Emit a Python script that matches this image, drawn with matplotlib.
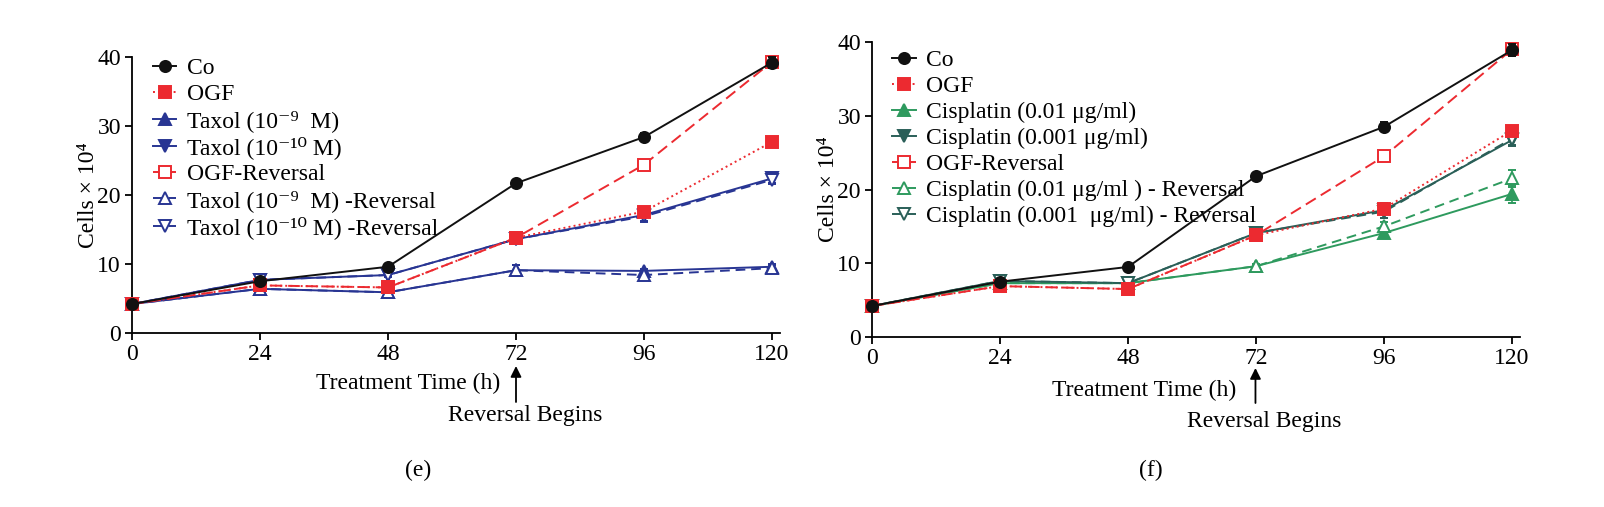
import matplotlib
matplotlib.use('Agg')
import matplotlib.pyplot as plt
from matplotlib.transforms import blended_transform_factory

plt.rcParams['font.family'] = ['Liberation Serif', 'DejaVu Serif']

hours = [0, 24, 48, 72, 96, 120]

# panel (e) - taxol
co_e = [4.2, 7.5, 9.6, 21.7, 28.4, 39.2]
co_e_err = [0.2, 0.3, 0.3, 0.5, 0.6, 0.8]
ogf_e = [4.2, 6.9, 6.6, 13.8, 17.6, 27.7]
ogf_e_err = [0.2, 0.3, 0.3, 0.4, 0.4, 0.7]
ogf_rev_e = [4.2, 6.9, 6.6, 13.8, 24.4, 39.3]
ogf_rev_e_err = [0.2, 0.3, 0.3, 0.4, 0.4, 0.6]
tax9 = [4.2, 6.4, 5.9, 9.1, 9.0, 9.6]
tax9_err = [0.2, 0.3, 0.3, 0.8, 0.3, 0.4]
tax10 = [4.2, 7.7, 8.4, 13.6, 17.1, 22.4]
tax10_err = [0.2, 0.3, 0.3, 0.4, 0.9, 0.6]
tax9_rev = [4.2, 6.4, 5.9, 9.1, 8.4, 9.4]
tax9_rev_err = [0.2, 0.3, 0.3, 0.8, 0.5, 0.4]
tax10_rev = [4.2, 7.7, 8.4, 13.6, 16.9, 22.2]
tax10_rev_err = [0.2, 0.3, 0.3, 0.4, 0.8, 0.6]

# panel (f) - cisplatin
co_f = [4.2, 7.5, 9.5, 21.8, 28.5, 38.9]
co_f_err = [0.2, 0.3, 0.3, 0.5, 0.6, 0.8]
ogf_f = [4.2, 6.9, 6.5, 13.8, 17.4, 28.0]
ogf_f_err = [0.2, 0.3, 0.3, 0.4, 0.4, 0.6]
ogf_rev_f = [4.2, 6.9, 6.5, 13.8, 24.5, 39.0]
ogf_rev_f_err = [0.2, 0.3, 0.3, 0.4, 0.4, 0.6]
cis01 = [4.2, 7.3, 7.3, 9.6, 14.1, 19.4]
cis01_err = [0.2, 0.3, 0.3, 0.3, 0.7, 1.2]
cis001 = [4.2, 7.6, 7.3, 14.1, 17.2, 26.7]
cis001_err = [0.2, 0.4, 0.3, 0.4, 1.0, 0.8]
cis01_rev = [4.2, 7.3, 7.3, 9.6, 15.0, 21.5]
cis01_rev_err = [0.2, 0.3, 0.3, 0.3, 0.6, 1.1]
cis001_rev = [4.2, 7.6, 7.3, 14.1, 17.0, 26.9]
cis001_rev_err = [0.2, 0.4, 0.3, 0.4, 0.9, 0.8]

BLACK = '#111111'
RED = '#ec2a30'
NAVY = '#283593'
GREEN = '#2e9a5e'
TEAL = '#2a5f58'

W, H = 1604, 507
fig = plt.figure(figsize=(W / 100, H / 100), dpi=100)


def series(ax, y, err, color, marker, ls, label, hollow=False, z=3):
    cont = ax.errorbar(hours, y, yerr=err, color=color, marker=marker, ls=ls, lw=1.4,
                       markersize=8, markeredgewidth=1.4, capsize=3, elinewidth=1.2,
                       capthick=1.2, markerfacecolor='white' if hollow else color,
                       markeredgecolor=color, label=label, clip_on=False, zorder=z)
    return cont[0], label


def style_axes(ax):
    ax.set_xlim(0, 121.5)
    ax.set_ylim(0, 40)
    ax.set_xticks(hours)
    ax.set_yticks([0, 10, 20, 30, 40])
    for side in ('top', 'right'):
        ax.spines[side].set_visible(False)
    for side in ('left', 'bottom'):
        ax.spines[side].set_linewidth(1.3)
    ax.tick_params(direction='out', length=5, width=1.3, labelsize=17, pad=3)
    ax.set_ylabel('Cells × 10⁴', fontsize=17, labelpad=-1)


def add_legend(ax, entries, anchor):
    ax.legend([e[0] for e in entries], [e[1] for e in entries], loc='upper left',
              bbox_to_anchor=anchor, frameon=False, fontsize=17, handlelength=1.0,
              handletextpad=0.45, labelspacing=0.19, borderpad=0, borderaxespad=0)


def bottom_notes(ax, tx, ty, ax_x, arrow_y0, arrow_y1, rx, ry, px, py, panel):
    tr = blended_transform_factory(ax.transData, fig.transFigure)
    ax.text(tx, ty, 'Treatment Time (h)', transform=tr, ha='center', va='center',
            fontsize=17)
    ax.annotate('', xy=(ax_x, arrow_y1), xycoords=tr, xytext=(ax_x, arrow_y0),
                textcoords=tr, annotation_clip=False,
                arrowprops=dict(arrowstyle='-|>', color='black', lw=1.3,
                                mutation_scale=16, shrinkA=0, shrinkB=0))
    ax.text(rx, ry, 'Reversal Begins', transform=tr, ha='center', va='center',
            fontsize=17)
    ax.text(px, py, panel, transform=tr, ha='center', va='center', fontsize=17)


# (e)
ax1 = fig.add_axes([132 / W, 1 - 333 / H, 648 / W, 276 / H])
h_e = [
    series(ax1, co_e, co_e_err, BLACK, 'o', '-', 'Co', z=6),
    series(ax1, ogf_e, ogf_e_err, RED, 's', ':', 'OGF', z=5),
    series(ax1, tax9, tax9_err, NAVY, '^', '-', 'Taxol (10⁻⁹  M)'),
    series(ax1, tax10, tax10_err, NAVY, 'v', '-', 'Taxol (10⁻¹⁰ M)'),
    series(ax1, ogf_rev_e, ogf_rev_e_err, RED, 's', (0, (6, 3)), 'OGF-Reversal', hollow=True, z=4),
    series(ax1, tax9_rev, tax9_rev_err, NAVY, '^', (0, (5, 3)), 'Taxol (10⁻⁹  M) -Reversal', hollow=True),
    series(ax1, tax10_rev, tax10_rev_err, NAVY, 'v', (0, (5, 3)), 'Taxol (10⁻¹⁰ M) -Reversal', hollow=True),
]
style_axes(ax1)
add_legend(ax1, h_e, (0.032, 0.997))
bottom_notes(ax1, 51.8, 1 - 383 / H, 72, 1 - 402 / H, 1 - 366 / H,
             73.8, 1 - 415 / H, 53.7, 1 - 470 / H, '(e)')

# (f)
ax2 = fig.add_axes([872 / W, 1 - 337 / H, 648 / W, 295 / H])
h_f = [
    series(ax2, co_f, co_f_err, BLACK, 'o', '-', 'Co', z=6),
    series(ax2, ogf_f, ogf_f_err, RED, 's', ':', 'OGF', z=5),
    series(ax2, cis01, cis01_err, GREEN, '^', '-', 'Cisplatin (0.01 μg/ml)'),
    series(ax2, cis001, cis001_err, TEAL, 'v', '-', 'Cisplatin (0.001 μg/ml)'),
    series(ax2, ogf_rev_f, ogf_rev_f_err, RED, 's', (0, (6, 3)), 'OGF-Reversal', hollow=True, z=4),
    series(ax2, cis01_rev, cis01_rev_err, GREEN, '^', (0, (5, 3)), 'Cisplatin (0.01 μg/ml ) - Reversal', hollow=True),
    series(ax2, cis001_rev, cis001_rev_err, TEAL, 'v', (0, (5, 3)), 'Cisplatin (0.001  μg/ml) - Reversal', hollow=True),
]
style_axes(ax2)
add_legend(ax2, h_f, (0.031, 0.975))
bottom_notes(ax2, 51.1, 1 - 390 / H, 71.9, 1 - 403 / H, 1 - 368 / H,
             73.6, 1 - 422 / H, 52.3, 1 - 470 / H, '(f)')

fig.savefig('out.png', dpi=100)
